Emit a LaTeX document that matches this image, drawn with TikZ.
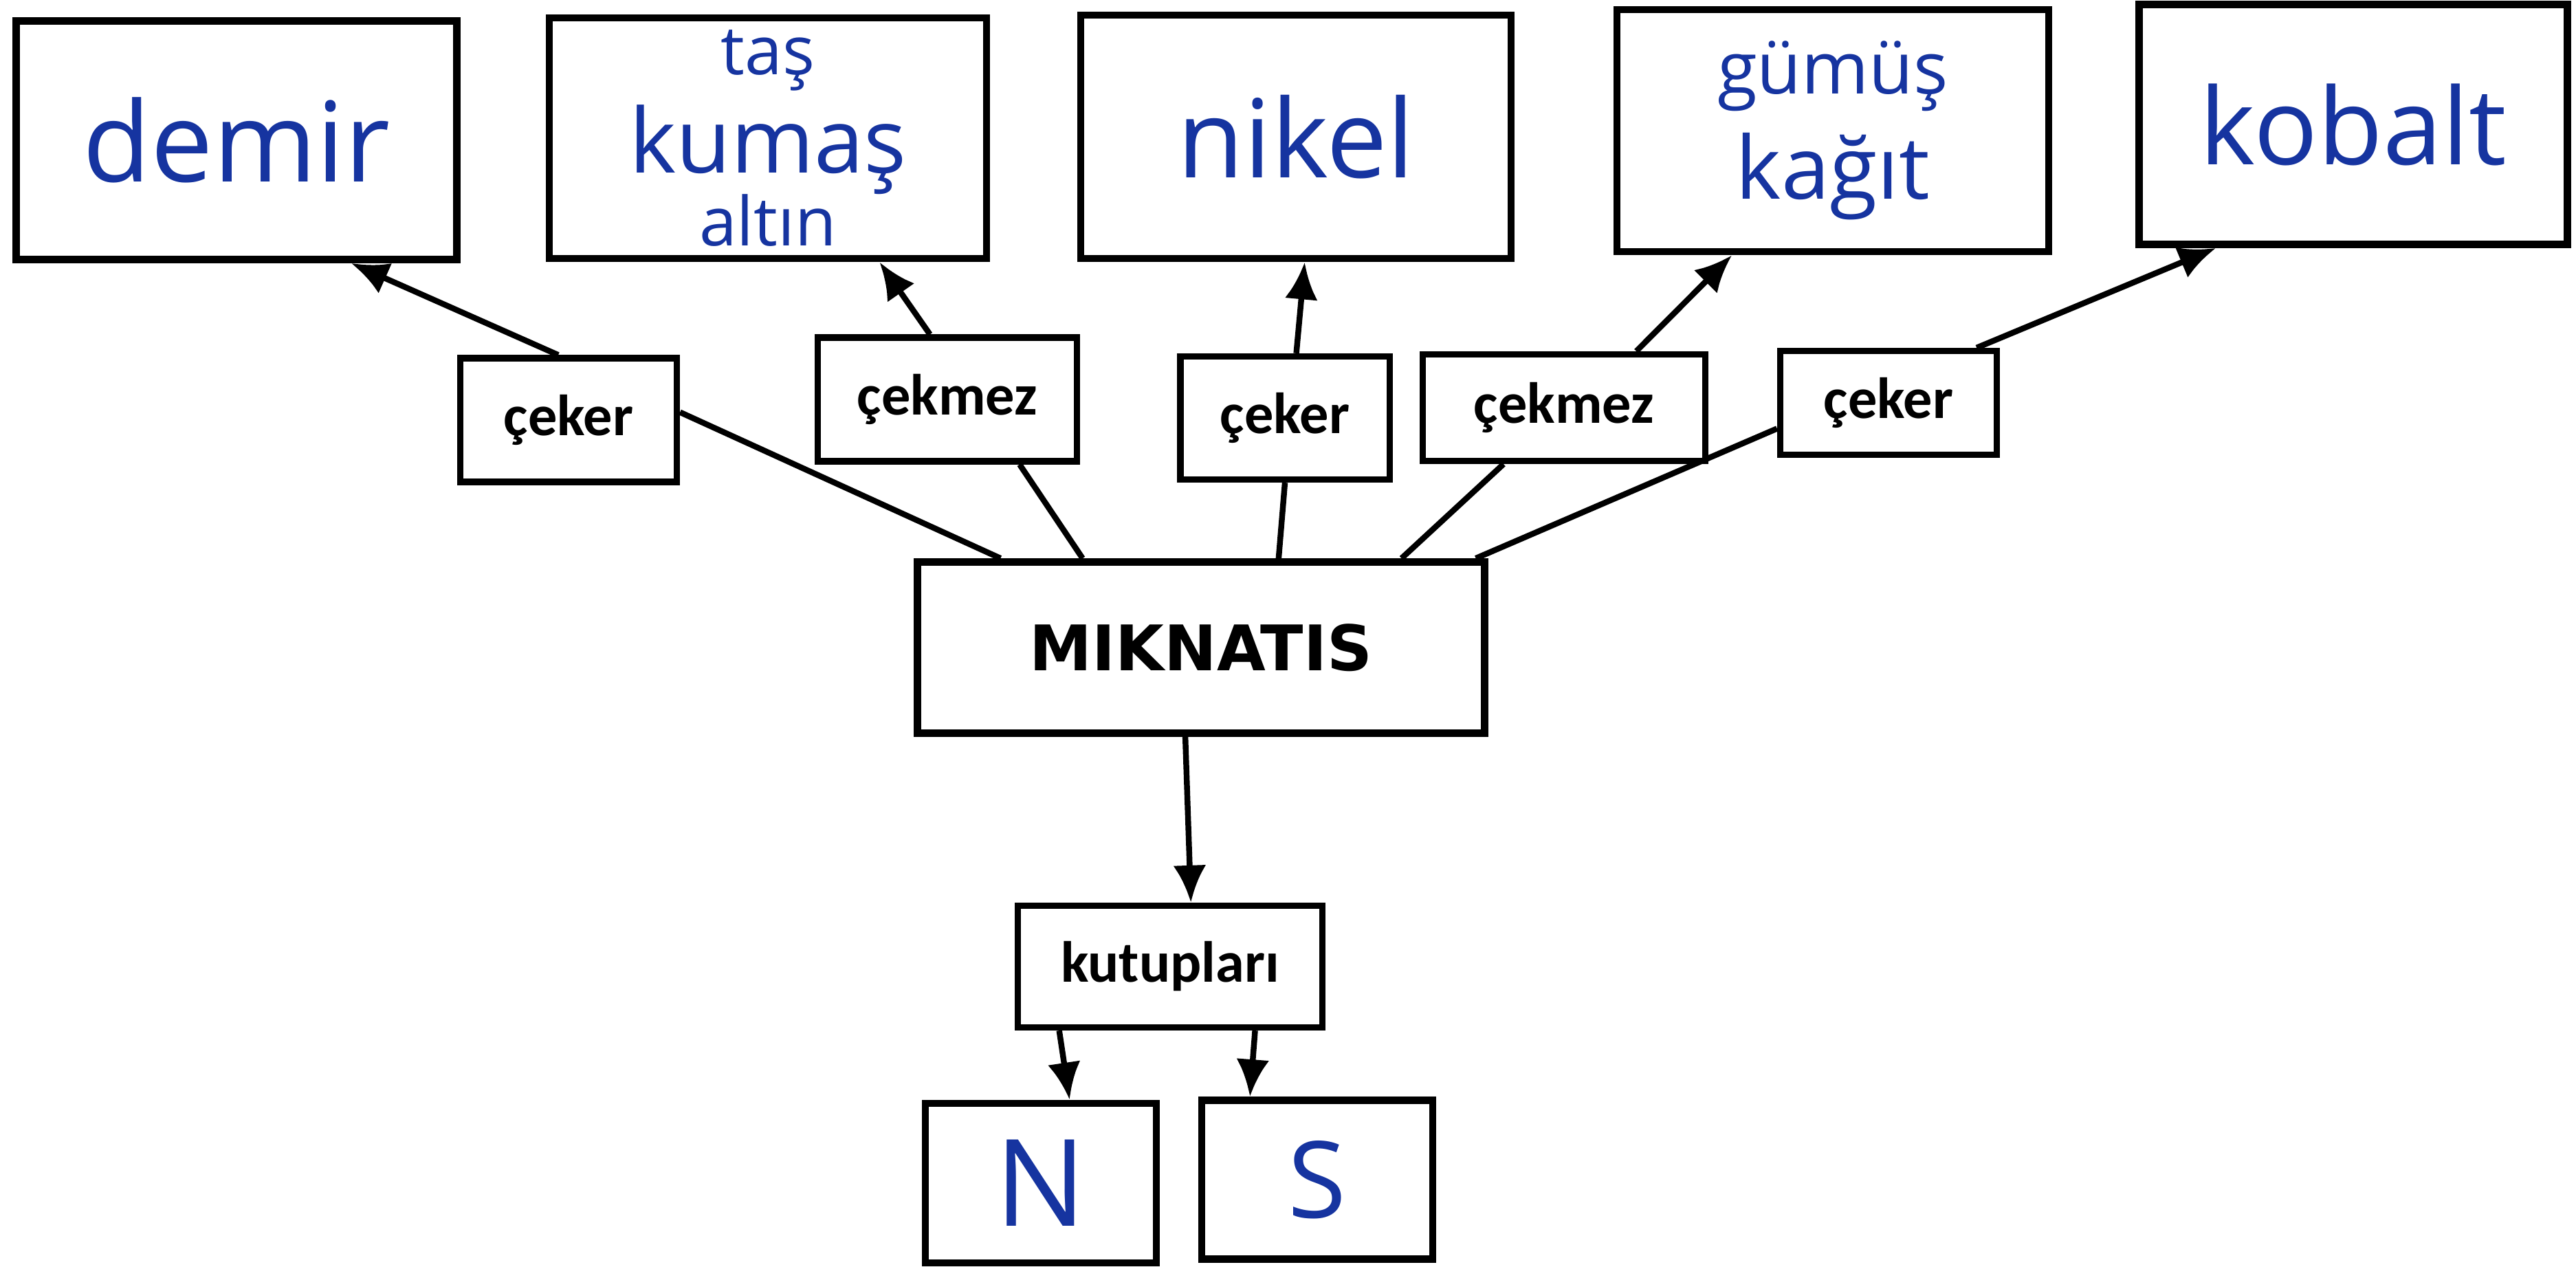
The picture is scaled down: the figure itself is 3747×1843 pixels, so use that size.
\documentclass[tikz,border=0pt]{standalone}
\usepackage{fontspec}
\setmainfont{Carlito}
\newfontfamily\handfont{Open Sans}
\newfontfamily\titlefont{DejaVu Sans}
\usetikzlibrary{arrows.meta}
\definecolor{inkblue}{RGB}{22,52,160}

\begin{document}
\begin{tikzpicture}[x=0.01cm, y=-0.01cm,
    box/.style={rectangle, draw, line width=3pt, inner sep=0pt, text centered},
    hand/.style={font=\handfont, text=inkblue},
    lab/.style={box, line width=2.6pt, font=\bfseries\fontsize{24}{30}\selectfont},
    link/.style={line width=2.4pt},
    arr/.style={link, -{Latex[length=5.4mm,width=4.8mm]}}]
    \useasboundingbox (0,0) rectangle (3747,1843);
    % materials
    \node[box, hand, minimum width=6.41cm, minimum height=3.47cm] (demir) at (344,204) {\fontsize{46}{50}\selectfont demir};
    \node[box, hand, align=center, minimum width=6.36cm, minimum height=3.50cm] (tas) at (1117,201) {\fontsize{28}{34}\selectfont taş\\[5pt]\fontsize{37}{40}\selectfont kumaş\\[-1pt]\fontsize{28}{30}\selectfont altın};
    \node[box, hand, minimum width=6.26cm, minimum height=3.54cm] (nikel) at (1885,199) {\fontsize{45}{50}\selectfont nikel};
    \node[box, hand, align=center, minimum width=6.28cm, minimum height=3.52cm] (gumus) at (2666,190) {\fontsize{30}{34}\selectfont gümüş\\[8pt]\fontsize{36}{40}\selectfont kağıt};
    \node[box, hand, minimum width=6.23cm, minimum height=3.49cm] (kobalt) at (3423,181) {\fontsize{44}{50}\selectfont kobalt};
    % relations
    \node[lab, minimum width=3.15cm, minimum height=1.80cm] (c1) at (827,611) {çeker};
    \node[lab, minimum width=3.77cm, minimum height=1.80cm] (c2) at (1378,581) {çekmez};
    \node[lab, minimum width=3.04cm, minimum height=1.79cm] (c3) at (1869,608) {çeker};
    \node[lab, minimum width=4.11cm, minimum height=1.55cm] (c4) at (2275,593) {çekmez};
    \node[lab, minimum width=3.15cm, minimum height=1.51cm] (c5) at (2747,586) {çeker};
    % magnet and poles
    \node[box, font=\titlefont\bfseries\fontsize{26}{32}\selectfont, minimum width=8.24cm, minimum height=2.49cm] (mag) at (1747,942) {MIKNATIS};
    \node[lab, minimum width=4.42cm, minimum height=1.77cm] (poles) at (1702,1406) {kutupları};
    \node[box, hand, minimum width=3.36cm, minimum height=2.32cm] (north) at (1514,1721) {\fontsize{50}{50}\selectfont N};
    \node[box, hand, minimum width=3.36cm, minimum height=2.31cm] (south) at (1916,1716) {\fontsize{44}{50}\selectfont S};
    % connectors
    \draw[link] (c1.4) -- (mag.156);
    \draw[link] (c2.-42) -- (mag.143);
    \draw[link] (c3.south) -- (mag.49);
    \draw[link] (c4.-137) -- (mag.24);
    \draw[link] (c5.193) -- (mag.18.5);
    \draw[arr] (c1.99) -- (demir.-47);
    \draw[arr] (c2.105) -- (tas.-48);
    \draw[arr] (c3.80) -- (nikel.-86);
    \draw[arr] (c4.38) -- (gumus.-129);
    \draw[arr] (c5.32) -- (kobalt.-138.5);
    \draw[arr] (mag.-100) -- (poles.72);
    \draw[arr] (poles.-150) -- (north.71);
    \draw[arr] (poles.-37) -- (south.129);
\end{tikzpicture}
\end{document}
